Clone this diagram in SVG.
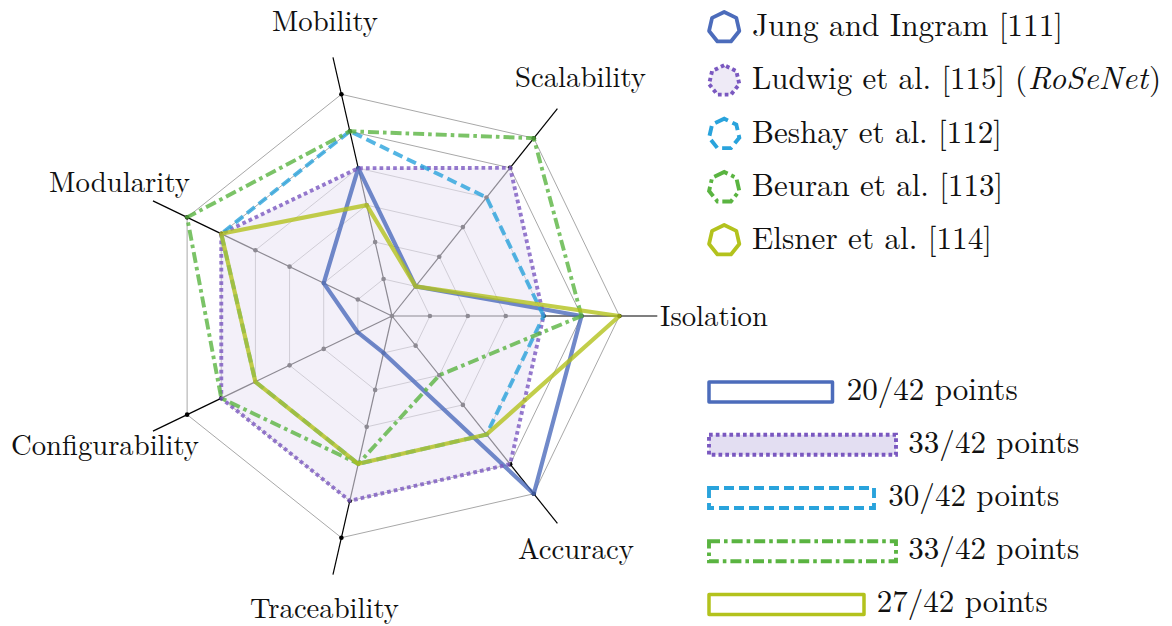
<svg xmlns="http://www.w3.org/2000/svg" xmlns:xlink="http://www.w3.org/1999/xlink" width="1172" height="626" viewBox="0 0 1172 626">
<style>
.lbl{font-size:28.7px;fill:#111}
.lg{font-size:31.3px;fill:#111}
.grid{fill:none;stroke:#a8a8a8;stroke-width:1}
.axis{stroke:#000;stroke-width:1.2}
.dot{fill:#000}
.jung{fill:none;stroke:#4c6cbb;stroke-width:4.2;stroke-linejoin:round}
.ludwig{fill:none;stroke:#7a58c0;stroke-width:3.9;stroke-dasharray:3.7 3.1}
.beshay{fill:none;stroke:#29a3dc;stroke-width:3.9;stroke-dasharray:10 5}
.beuran{fill:none;stroke:#5ab441;stroke-width:3.9;stroke-dasharray:11 4 3.6 4}
.elsner{fill:none;stroke:#b3c21d;stroke-width:4.2;stroke-linejoin:round}
.series{stroke-opacity:0.8}
.ic{stroke-width:3.8}
</style>
<defs>
<polygon id="hep" points="0,-15.5 -12.12,-9.66 -15.11,3.45 -6.73,13.96 6.73,13.96 15.11,3.45 12.12,-9.66"/>
</defs>

<g id="grid">
<polygon class="grid" points="429.9,316 415.63,286.37 383.57,279.05 357.85,299.56 357.85,332.44 383.57,352.95 415.63,345.63"/>
<polygon class="grid" points="467.8,316 439.26,256.74 375.13,242.10 323.71,283.11 323.71,348.89 375.13,389.90 439.26,375.26"/>
<polygon class="grid" points="505.7,316 462.89,227.11 366.70,205.15 289.56,266.67 289.56,365.33 366.70,426.85 462.89,404.89"/>
<polygon class="grid" points="543.6,316 486.52,197.47 358.27,168.20 255.41,250.22 255.41,381.78 358.27,463.80 486.52,434.53"/>
<polygon class="grid" points="581.5,316 510.15,167.84 349.83,131.25 221.27,233.78 221.27,398.22 349.83,500.75 510.15,464.16"/>
<polygon class="grid" points="619.4,316 533.78,138.21 341.40,94.30 187.12,217.34 187.12,414.66 341.40,537.70 533.78,493.79"/>
</g>

<g id="axes">
<line class="axis" x1="392" y1="316" x2="657.3" y2="316"/>
<line class="axis" x1="392" y1="316" x2="557.41" y2="108.58"/>
<line class="axis" x1="392" y1="316" x2="332.97" y2="57.35"/>
<line class="axis" x1="392" y1="316" x2="152.97" y2="200.89"/>
<line class="axis" x1="392" y1="316" x2="152.97" y2="431.11"/>
<line class="axis" x1="392" y1="316" x2="332.97" y2="574.65"/>
<line class="axis" x1="392" y1="316" x2="557.41" y2="523.42"/>
</g>

<g id="ticks" class="dot">
<circle cx="392" cy="316" r="2.3"/>
<circle cx="429.9" cy="316" r="2.3"/><circle cx="467.8" cy="316" r="2.3"/><circle cx="505.7" cy="316" r="2.3"/><circle cx="543.6" cy="316" r="2.3"/><circle cx="581.5" cy="316" r="2.3"/><circle cx="619.4" cy="316" r="2.3"/>
<circle cx="415.63" cy="286.37" r="2.3"/><circle cx="439.26" cy="256.74" r="2.3"/><circle cx="462.89" cy="227.11" r="2.3"/><circle cx="486.52" cy="197.47" r="2.3"/><circle cx="510.15" cy="167.84" r="2.3"/><circle cx="533.78" cy="138.21" r="2.3"/>
<circle cx="383.57" cy="279.05" r="2.3"/><circle cx="375.13" cy="242.10" r="2.3"/><circle cx="366.70" cy="205.15" r="2.3"/><circle cx="358.27" cy="168.20" r="2.3"/><circle cx="349.83" cy="131.25" r="2.3"/><circle cx="341.40" cy="94.30" r="2.3"/>
<circle cx="357.85" cy="299.56" r="2.3"/><circle cx="323.71" cy="283.11" r="2.3"/><circle cx="289.56" cy="266.67" r="2.3"/><circle cx="255.41" cy="250.22" r="2.3"/><circle cx="221.27" cy="233.78" r="2.3"/><circle cx="187.12" cy="217.34" r="2.3"/>
<circle cx="357.85" cy="332.44" r="2.3"/><circle cx="323.71" cy="348.89" r="2.3"/><circle cx="289.56" cy="365.33" r="2.3"/><circle cx="255.41" cy="381.78" r="2.3"/><circle cx="221.27" cy="398.22" r="2.3"/><circle cx="187.12" cy="414.66" r="2.3"/>
<circle cx="383.57" cy="352.95" r="2.3"/><circle cx="375.13" cy="389.90" r="2.3"/><circle cx="366.70" cy="426.85" r="2.3"/><circle cx="358.27" cy="463.80" r="2.3"/><circle cx="349.83" cy="500.75" r="2.3"/><circle cx="341.40" cy="537.70" r="2.3"/>
<circle cx="415.63" cy="345.63" r="2.3"/><circle cx="439.26" cy="375.26" r="2.3"/><circle cx="462.89" cy="404.89" r="2.3"/><circle cx="486.52" cy="434.53" r="2.3"/><circle cx="510.15" cy="464.16" r="2.3"/><circle cx="533.78" cy="493.79" r="2.3"/>
</g>

<g id="ludwig-area">
<polygon points="543.6,316 510.15,167.84 358.27,168.20 221.27,233.78 221.27,398.22 349.83,500.75 510.15,464.16" fill="#ebe6f5" fill-opacity="0.6" stroke="none"/>
</g>

<g id="series" class="series">
<polygon id="s-jung" class="jung" points="581.5,316 415.63,286.37 358.27,168.20 323.71,283.11 357.85,332.44 383.57,352.95 533.78,493.79"/>
<polygon id="s-ludwig" class="ludwig" points="543.6,316 510.15,167.84 358.27,168.20 221.27,233.78 221.27,398.22 349.83,500.75 510.15,464.16"/>
<polygon id="s-beshay" class="beshay" points="543.6,316 486.52,197.47 349.83,131.25 221.27,233.78 255.41,381.78 358.27,463.80 486.52,434.53"/>
<polygon id="s-beuran" class="beuran" points="581.5,316 533.78,138.21 349.83,131.25 187.12,217.34 221.27,398.22 358.27,463.80 439.26,375.26"/>
<polygon id="s-elsner" class="elsner" points="619.4,316 415.63,286.37 366.70,205.15 221.27,233.78 255.41,381.78 358.27,463.80 486.52,434.53"/>
</g>

<g id="axis-labels">
<text class="lbl" font-family="Latin Modern Roman, Liberation Serif, serif" x="272" y="31" textLength="106" lengthAdjust="spacingAndGlyphs">Mobility</text>
<text class="lbl" font-family="Latin Modern Roman, Liberation Serif, serif" x="515" y="87" textLength="131" lengthAdjust="spacingAndGlyphs">Scalability</text>
<text class="lbl" font-family="Latin Modern Roman, Liberation Serif, serif" x="49" y="192.3" textLength="141" lengthAdjust="spacingAndGlyphs">Modularity</text>
<text class="lbl" font-family="Latin Modern Roman, Liberation Serif, serif" x="660" y="326" textLength="108" lengthAdjust="spacingAndGlyphs">Isolation</text>
<text class="lbl" font-family="Latin Modern Roman, Liberation Serif, serif" x="11" y="455" textLength="188" lengthAdjust="spacingAndGlyphs">Configurability</text>
<text class="lbl" font-family="Latin Modern Roman, Liberation Serif, serif" x="250" y="618.3" textLength="149" lengthAdjust="spacingAndGlyphs">Traceability</text>
<text class="lbl" font-family="Latin Modern Roman, Liberation Serif, serif" x="518" y="559" textLength="116" lengthAdjust="spacingAndGlyphs">Accuracy</text>
</g>

<g id="legend-names">
<g id="leg-jung">
<use xlink:href="#hep" x="724.2" y="27.5" class="jung ic"/>
<text class="lg" font-family="Latin Modern Roman, Liberation Serif, serif" x="752" y="36" textLength="311" lengthAdjust="spacingAndGlyphs">Jung and Ingram [111]</text>
</g>
<g id="leg-ludwig">
<use xlink:href="#hep" x="724.2" y="80.7" class="ludwig" style="fill:#eeeaf6"/>
<text class="lg" font-family="Latin Modern Roman, Liberation Serif, serif" y="89.3"><tspan x="752" textLength="253" lengthAdjust="spacingAndGlyphs">Ludwig et al. [115]</tspan> <tspan x="1015">(</tspan><tspan x="1028" font-style="italic" textLength="120" lengthAdjust="spacingAndGlyphs">RoSeNet</tspan><tspan x="1149">)</tspan></text>
</g>
<g id="leg-beshay">
<use xlink:href="#hep" x="724.2" y="134.2" class="beshay"/>
<text class="lg" font-family="Latin Modern Roman, Liberation Serif, serif" x="752" y="142.7" textLength="250" lengthAdjust="spacingAndGlyphs">Beshay et al. [112]</text>
</g>
<g id="leg-beuran">
<use xlink:href="#hep" x="724.2" y="187.5" class="beuran"/>
<text class="lg" font-family="Latin Modern Roman, Liberation Serif, serif" x="752" y="196" textLength="251" lengthAdjust="spacingAndGlyphs">Beuran et al. [113]</text>
</g>
<g id="leg-elsner">
<use xlink:href="#hep" x="724.2" y="240.5" class="elsner ic"/>
<text class="lg" font-family="Latin Modern Roman, Liberation Serif, serif" x="752" y="249.3" textLength="240" lengthAdjust="spacingAndGlyphs">Elsner et al. [114]</text>
</g>
</g>

<g id="legend-points">
<g id="pts-jung">
<rect x="709" y="382" width="123.5" height="20" class="jung" style="stroke-width:3.5"/>
<text class="lg" font-family="Latin Modern Roman, Liberation Serif, serif" x="846.7" y="400" textLength="171" lengthAdjust="spacingAndGlyphs">20/42 points</text>
</g>
<g id="pts-ludwig">
<rect x="709" y="434.8" width="187" height="20" class="ludwig" style="fill:#e3def2"/>
<text class="lg" font-family="Latin Modern Roman, Liberation Serif, serif" x="908.3" y="453.3" textLength="171" lengthAdjust="spacingAndGlyphs">33/42 points</text>
</g>
<g id="pts-beshay">
<rect x="709" y="488" width="165" height="20" class="beshay"/>
<text class="lg" font-family="Latin Modern Roman, Liberation Serif, serif" x="888.3" y="506" textLength="171" lengthAdjust="spacingAndGlyphs">30/42 points</text>
</g>
<g id="pts-beuran">
<rect x="709" y="541.3" width="187" height="20" class="beuran"/>
<text class="lg" font-family="Latin Modern Roman, Liberation Serif, serif" x="908.3" y="559" textLength="171" lengthAdjust="spacingAndGlyphs">33/42 points</text>
</g>
<g id="pts-elsner">
<rect x="709" y="594.5" width="155" height="20" class="elsner" style="stroke-width:3.5"/>
<text class="lg" font-family="Latin Modern Roman, Liberation Serif, serif" x="876.7" y="611.7" textLength="171" lengthAdjust="spacingAndGlyphs">27/42 points</text>
</g>
</g>
</svg>
